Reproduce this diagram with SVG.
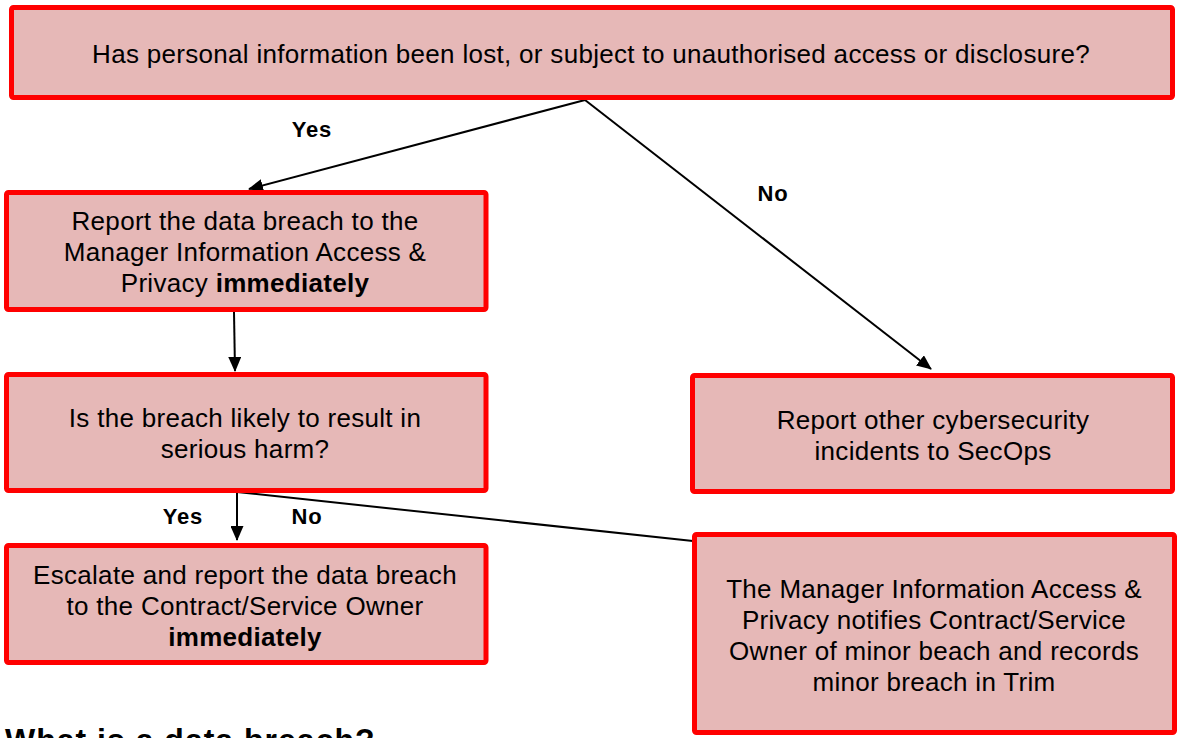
<svg xmlns="http://www.w3.org/2000/svg" width="1179" height="738" viewBox="0 0 1179 738">
<style>
.box{fill:#E6B8B7;stroke:#FF0000;stroke-width:5;}
.t{font-family:"Liberation Sans",Arial,sans-serif;font-size:26px;letter-spacing:0.3px;fill:#000;text-anchor:middle;}
.b{font-weight:bold;}
.lbl{font-family:"Liberation Sans",Arial,sans-serif;font-size:22px;letter-spacing:0.8px;font-weight:bold;fill:#000;text-anchor:middle;}
.c{stroke:#000;stroke-width:2;fill:none;}
</style>
<defs>
<marker id="ah" markerWidth="15" markerHeight="13" refX="14" refY="6.5" orient="auto" markerUnits="userSpaceOnUse" viewBox="0 0 15 13">
<path d="M0,0 L15,6.5 L0,13 z" fill="#000"/>
</marker>
</defs>
<rect width="1179" height="738" fill="#fff"/>
<g id="connectors">
<line class="c" x1="585" y1="100" x2="249" y2="189" marker-end="url(#ah)"/>
<line class="c" x1="585" y1="100" x2="931" y2="369" marker-end="url(#ah)"/>
<line class="c" x1="234" y1="312" x2="235" y2="371" marker-end="url(#ah)"/>
<line class="c" x1="237" y1="492" x2="237" y2="540" marker-end="url(#ah)"/>
<line class="c" x1="237" y1="492" x2="693" y2="541"/>
<text class="lbl" x="312" y="137">Yes</text>
<text class="lbl" x="773" y="201">No</text>
<text class="lbl" x="183" y="524">Yes</text>
<text class="lbl" x="307" y="524">No</text>
</g>
<g id="q1">
<rect class="box" x="11.5" y="7.5" width="1161" height="90" rx="2"/>
<text class="t" x="591" y="63">Has personal information been lost, or subject to unauthorised access or disclosure?</text>
</g>
<g id="report">
<rect class="box" x="6.5" y="192.5" width="479.5" height="117" rx="2"/>
<text class="t" x="245" y="230">Report the data breach to the</text>
<text class="t" x="245" y="261">Manager Information Access &amp;</text>
<text class="t" x="245" y="292">Privacy <tspan class="b">immediately</tspan></text>
</g>
<g id="q2">
<rect class="box" x="6.5" y="374.5" width="479.5" height="116" rx="2"/>
<text class="t" x="245" y="427">Is the breach likely to result in</text>
<text class="t" x="245" y="458">serious harm?</text>
</g>
<g id="escalate">
<rect class="box" x="6.5" y="545.5" width="479.5" height="117" rx="2"/>
<text class="t" x="245" y="584">Escalate and report the data breach</text>
<text class="t" x="245" y="615">to the Contract/Service Owner</text>
<text class="t b" x="245" y="646">immediately</text>
</g>
<g id="secops">
<rect class="box" x="692.5" y="375.5" width="480" height="116" rx="2"/>
<text class="t" x="933" y="429">Report other cybersecurity</text>
<text class="t" x="933" y="460">incidents to SecOps</text>
</g>
<g id="minor">
<rect class="box" x="694.5" y="534.5" width="480" height="198" rx="2"/>
<text class="t" x="934" y="598">The Manager Information Access &amp;</text>
<text class="t" x="934" y="629">Privacy notifies Contract/Service</text>
<text class="t" x="934" y="660">Owner of minor beach and records</text>
<text class="t" x="934" y="691">minor breach in Trim</text>
</g>
<text x="5" y="751" font-family="'Liberation Sans',Arial,sans-serif" font-size="32" letter-spacing="1" font-weight="bold" fill="#000">What is a data breach?</text>
</svg>
